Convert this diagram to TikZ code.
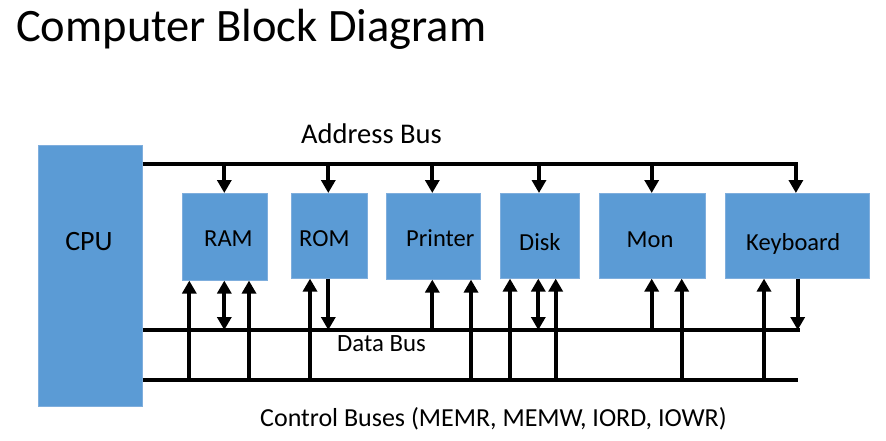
\documentclass[tikz,border=0pt]{standalone}
\usepackage{fontspec}
\setmainfont{Carlito}
\usetikzlibrary{arrows.meta}
\definecolor{boxblue}{HTML}{5B9BD5}
\definecolor{boxedge}{HTML}{7FAEDD}
\tikzset{
  blk/.style={draw=boxedge, line width=0.6pt, fill=boxblue, inner sep=0pt},
  bus/.style={line width=4.4pt, line cap=butt},
  arr/.style={line width=4.2pt, -{Triangle[width=14pt,length=13pt]}},
  darr/.style={line width=4.2pt, {Triangle[width=14pt,length=13pt]}-{Triangle[width=14pt,length=13pt]}},
  lbl/.style={anchor=base west, inner sep=0pt, font=\fontsize{24.5}{28}\selectfont},
}
\begin{document}
\begin{tikzpicture}[x=1pt,y=-1pt]
\useasboundingbox (0,0) rectangle (886,441);
% title
\node[anchor=base west, inner sep=0pt, font=\fontsize{46.5}{52}\selectfont] (title) at (16,42) {Computer Block Diagram};
% blocks
\node[blk, minimum width=104pt, minimum height=261pt, anchor=north west] (cpu) at (38,145) {};
\node[blk, minimum width=85pt, minimum height=87pt, anchor=north west] (ram) at (182,193) {};
\node[blk, minimum width=76pt, minimum height=85pt, anchor=north west] (rom) at (290.5,193) {};
\node[blk, minimum width=94pt, minimum height=86pt, anchor=north west] (prn) at (386,193) {};
\node[blk, minimum width=79pt, minimum height=85pt, anchor=north west] (disk) at (500,193) {};
\node[blk, minimum width=106pt, minimum height=85pt, anchor=north west] (mon) at (599,193) {};
\node[blk, minimum width=144pt, minimum height=85pt, anchor=north west] (kb) at (725,193) {};
% block labels
\node[anchor=base, inner sep=0pt, font=\fontsize{28}{32}\selectfont] (cputxt) at (89,250.5) {CPU};
\node[lbl] (ramtxt) at (204,246.5) {RAM};
\node[lbl] (romtxt) at (299,246.5) {ROM};
\node[lbl] (prntxt) at (406,246) {Printer};
\node[lbl] (disktxt) at (519,250) {Disk};
\node[lbl] (montxt) at (626.5,247.3) {Mon};
\node[lbl] (kbtxt) at (746,250) {Keyboard};
% bus labels
\node[anchor=base, inner sep=0pt, font=\fontsize{28.5}{32}\selectfont] (abtxt) at (371.5,143.3) {Address Bus};
\node[anchor=base west, inner sep=0pt, font=\fontsize{24.8}{28}\selectfont] (dbtxt) at (337,351.7) {Data Bus};
\node[anchor=base west, inner sep=0pt, font=\fontsize{26}{30}\selectfont] (cbtxt) at (260,426.7) {Control Buses (MEMR, MEMW, IORD, IOWR)};
% bus end points
\coordinate (ab0) at (cpu.east |- 0,164);
\coordinate (ab1) at (798,164);
\coordinate (db0) at (cpu.east |- 0,330);
\coordinate (db1) at (800,330);
\coordinate (cb0) at (cpu.east |- 0,380);
\coordinate (cb1) at (798,380);
\draw[bus] (ab0) -- (ab1);
\draw[bus] (db0) -- (db1);
\draw[bus] (cb0) -- (cb1);
% address bus taps
\coordinate (a1) at (224.3,164);
\coordinate (a2) at (328.3,164);
\coordinate (a3) at (432.3,164);
\coordinate (a4) at (539,164);
\coordinate (a5) at (651.7,164);
\draw[arr] (a1) -- (a1 |- ram.north);
\draw[arr] (a2) -- (a2 |- rom.north);
\draw[arr] (a3) -- (a3 |- prn.north);
\draw[arr] (a4) -- (a4 |- disk.north);
\draw[arr] (a5) -- (a5 |- mon.north);
\draw[arr] ([xshift=-2.1pt]ab1) -- ([xshift=-2.1pt]ab1 |- kb.north);
% RAM
\coordinate (r1) at (189.3,380);
\coordinate (r2) at (224.3,330);
\coordinate (r3) at (249,380);
\draw[arr] (r1) -- (r1 |- ram.south);
\draw[darr] (r2) -- (r2 |- ram.south);
\draw[arr] (r3) -- (r3 |- ram.south);
% ROM
\coordinate (o1) at (310,380);
\coordinate (o2) at (328.3,330);
\draw[arr] (o1) -- (o1 |- rom.south);
\draw[arr] (o2 |- rom.south) -- (o2);
% Printer
\coordinate (p1) at (432.3,330);
\coordinate (p2) at (471,380);
\draw[arr] (p1) -- (p1 |- prn.south);
\draw[arr] (p2) -- (p2 |- prn.south);
% Disk
\coordinate (d1) at (510,380);
\coordinate (d2) at (538.3,330);
\coordinate (d3) at (555.7,380);
\draw[arr] (d1) -- (d1 |- disk.south);
\draw[darr] (d2) -- (d2 |- disk.south);
\draw[arr] (d3) -- (d3 |- disk.south);
% Mon
\coordinate (m1) at (651.7,330);
\coordinate (m2) at (681.7,380);
\draw[arr] (m1) -- (m1 |- mon.south);
\draw[arr] (m2) -- (m2 |- mon.south);
% Keyboard
\coordinate (k1) at (764,380);
\coordinate (k2) at (797.7,330);
\draw[arr] (k1) -- (k1 |- kb.south);
\draw[arr] (k2 |- kb.south) -- (k2);
\end{tikzpicture}
\end{document}
